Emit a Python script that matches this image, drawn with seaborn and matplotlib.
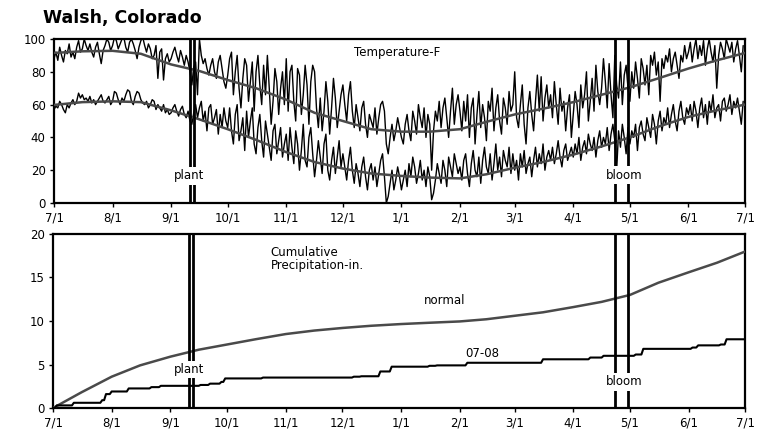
import numpy as np
import pandas as pd
import matplotlib
matplotlib.use("Agg")
import matplotlib.pyplot as plt
import seaborn as sns

# ---------------- data ----------------
month_ticks = [0, 31, 62, 92, 123, 153, 184, 215, 244, 275, 305, 336, 366]
month_labels = ["7/1", "8/1", "9/1", "10/1", "11/1", "12/1", "1/1", "2/1",
                "3/1", "4/1", "5/1", "6/1", "7/1"]

# daily max temperature, 7/1/2007 - 6/30/2008 (F)
tmax_jul = [88,92,87,95,90,86,93,91,97,89,92,88,95,99,92,94,100,96,93,97,92,89,95,98,91,85,93,96,100,98,93]
tmax_aug = [96,101,99,94,97,100,101,95,92,98,100,97,93,88,95,99,101,96,92,97,94,88,90,96,76,92,94,75,88,91,86]
tmax_sep = [88,92,95,90,86,93,89,84,90,86,80,72,83,86,66,100,90,85,88,82,78,84,88,80,76,86,90,82,74,70]
tmax_oct = [78,88,92,66,80,90,70,58,76,88,84,62,74,86,56,80,90,72,60,84,66,90,70,48,62,82,74,54,70,80,60]
tmax_nov = [88,56,80,84,62,50,82,78,54,66,84,72,48,74,84,80,58,46,64,44,56,74,62,42,58,76,64,46,56,66]
tmax_dec = [72,60,50,66,74,56,46,60,52,44,58,62,48,40,54,50,46,58,42,52,60,62,56,36,30,40,48,38,44,52,46]
tmax_jan = [40,36,48,54,44,38,56,50,42,60,52,46,58,40,54,48,20,44,56,50,62,46,58,64,52,40,56,70,48,60,66]
tmax_feb = [56,44,62,50,66,40,58,64,36,54,68,46,60,52,38,62,56,70,44,58,66,50,42,64,58,48,68,56,60]
tmax_mar = [80,52,46,60,72,48,36,58,68,54,44,62,78,56,77,50,64,72,58,66,52,74,60,48,70,56,62,44,58,66,40]
tmax_apr = [54,68,60,46,72,58,66,80,50,62,76,56,84,68,60,70,88,74,58,85,66,52,90,72,64,86,60,78,84,70]
tmax_may = [62,80,70,86,76,64,88,82,72,84,66,90,84,92,78,86,62,88,82,90,86,94,80,88,92,84,76,90,86,96,88]
tmax_jun = [92,98,86,94,100,88,96,90,99,84,94,100,92,86,96,70,90,98,94,88,100,96,92,98,86,94,99,90,80,96]

# daily min temperature
tmin_jul = [57,59,58,62,60,57,55,60,58,61,63,60,62,67,64,66,63,64,62,65,61,63,60,62,64,66,62,61,63,65,60]
tmin_aug = [62,68,67,63,60,64,62,66,69,68,62,60,65,68,67,63,61,60,62,58,60,63,62,57,60,58,56,60,55,57,54]
tmin_sep = [55,58,60,56,53,57,59,54,52,56,50,48,55,60,52,58,62,50,56,44,58,60,48,52,57,42,54,46,58,50]
tmin_oct = [46,58,44,36,54,60,38,44,52,32,56,40,50,58,36,30,46,54,38,28,50,42,34,26,44,48,30,38,46,28,36]
tmin_nov = [42,26,46,34,24,44,36,20,32,48,26,22,40,46,30,16,26,38,28,18,36,42,20,14,26,34,18,28,38,22]
tmin_dec = [30,22,14,26,34,20,12,24,18,10,22,28,16,8,20,24,14,22,10,18,26,30,16,0,4,12,20,8,14,22,16]
tmin_jan = [8,14,20,10,24,16,28,22,12,18,26,14,20,10,22,16,2,6,14,24,18,12,26,20,10,28,22,16,30,24,18]
tmin_feb = [22,14,26,30,18,10,24,32,20,16,28,12,26,34,22,18,30,14,24,36,20,28,16,32,26,22,34,18,30]
tmin_mar = [20,26,14,30,22,32,18,24,28,16,26,34,22,30,24,36,20,28,32,26,34,24,30,38,28,22,32,36,26,30,34]
tmin_apr = [28,36,30,40,26,34,38,30,42,36,32,40,28,38,44,34,40,36,46,32,42,48,38,20,44,34,48,40,30,46]
tmin_may = [36,44,40,48,32,46,50,42,38,52,46,40,54,48,36,50,56,44,52,48,58,46,54,60,50,44,56,62,52,48,58]
tmin_jun = [54,60,50,62,56,46,58,64,52,60,48,62,56,66,52,58,60,50,62,64,56,60,66,54,62,58,64,56,48,62]

# normal temperatures (semi-monthly points, day index from 7/1)
norm_days = [0,15,31,46,62,77,92,107,123,138,153,168,184,199,215,229,244,259,275,290,305,320,336,351,366]
norm_tmax = [91.5,92.5,92.8,91,84.5,80.5,75,70,63,55,50,45,43.5,43.5,45,49.5,54,57.5,61.5,66,70.5,76,82,87,91.5]
norm_tmin = [59.8,61.5,62,61.5,56.5,51,45,38.5,31,25,21,18,16.5,15.5,15,17.5,21.5,25,29.5,34.5,40,46.5,52.5,56.5,60]

# normal cumulative precipitation (in.)
norm_precip = [0,1.8,3.6,4.9,5.9,6.7,7.3,7.9,8.5,8.9,9.2,9.45,9.65,9.8,9.95,10.2,10.6,11.0,11.6,12.2,13.0,14.4,15.6,16.7,18.0]

# 2007-08 rain events (day index from 7/1, inches)
rain_days = [2,11,26,28,31,40,52,57,78,83,89,91,111,159,163,173,179,199,203,219,259,284,291,308,312,338,341,353,356]
rain_amts = [0.3,0.3,0.3,0.7,0.3,0.35,0.15,0.15,0.1,0.15,0.2,0.4,0.1,0.1,0.05,0.55,0.55,0.1,0.05,0.3,0.4,0.2,0.2,0.15,0.65,0.15,0.25,0.1,0.6]

plant_days = [72, 74]
bloom_days = [297, 304]

# ---------------- build frames ----------------
tmax = sum([tmax_jul, tmax_aug, tmax_sep, tmax_oct, tmax_nov, tmax_dec,
            tmax_jan, tmax_feb, tmax_mar, tmax_apr, tmax_may, tmax_jun], [])
tmin = sum([tmin_jul, tmin_aug, tmin_sep, tmin_oct, tmin_nov, tmin_dec,
            tmin_jan, tmin_feb, tmin_mar, tmin_apr, tmin_may, tmin_jun], [])
days = np.arange(len(tmax))
temp_df = pd.DataFrame({"day": days, "tmax": tmax, "tmin": tmin})
norm_df = pd.DataFrame({"day": norm_days, "tmax": norm_tmax, "tmin": norm_tmin,
                        "precip": norm_precip})
daily_rain = np.zeros(367)
for d, a in zip(rain_days, rain_amts):
    daily_rain[d] += a
rain_df = pd.DataFrame({"day": np.arange(367), "cum": np.cumsum(daily_rain)})

# ---------------- plot ----------------
sns.set_style("white")
plt.rcParams["font.family"] = ["DejaVu Sans"]
plt.rcParams["text.color"] = "black"
plt.rcParams["xtick.color"] = "black"
plt.rcParams["ytick.color"] = "black"
plt.rcParams["axes.labelcolor"] = "black"

fig = plt.figure(figsize=(7.63, 4.33), dpi=100)
ax1 = fig.add_axes([0.0708, 0.5312, 0.9057, 0.3787])
ax2 = fig.add_axes([0.0695, 0.0577, 0.9075, 0.4019])

NORM_C = "#4a4a4a"

# temperature panel
sns.lineplot(data=temp_df, x="day", y="tmax", ax=ax1, color="black", linewidth=1.0, zorder=3)
sns.lineplot(data=temp_df, x="day", y="tmin", ax=ax1, color="black", linewidth=1.0, zorder=3)
sns.lineplot(data=norm_df, x="day", y="tmax", ax=ax1, color=NORM_C, linewidth=1.8, zorder=4)
sns.lineplot(data=norm_df, x="day", y="tmin", ax=ax1, color=NORM_C, linewidth=1.8, zorder=4)
ax1.set_ylim(0, 100)
ax1.set_yticks([0, 20, 40, 60, 80, 100])

# precipitation panel
sns.lineplot(data=norm_df, x="day", y="precip", ax=ax2, color=NORM_C, linewidth=1.8, zorder=4)
sns.lineplot(data=rain_df, x="day", y="cum", ax=ax2, color="black", linewidth=1.5, zorder=4)
ax2.set_ylim(0, 20)
ax2.set_yticks([0, 5, 10, 15, 20])

for ax in (ax1, ax2):
    ax.set_xlim(0, 366)
    ax.set_xticks(month_ticks)
    ax.set_xticklabels(month_labels)
    ax.set_xlabel("")
    ax.set_ylabel("")
    ax.tick_params(axis="both", direction="out", length=3, width=1, labelsize=8.5,
                   pad=3, bottom=True, left=True, colors="black")
    for s in ax.spines.values():
        s.set_visible(True)
        s.set_color("black")
        s.set_linewidth(1.6)
    for d in plant_days + bloom_days:
        ax.axvline(d, color="black", linewidth=2.0, zorder=5)

box = dict(facecolor="white", edgecolor="none", pad=1.5)
ax1.text(181.7, 91.5, "Temperature-F", ha="center", va="center", fontsize=8.5, zorder=6)
ax1.text(71.5, 16.5, "plant", ha="center", va="center", fontsize=8.5, bbox=box, zorder=6)
ax1.text(302, 17, "bloom", ha="center", va="center", fontsize=8.5, bbox=box, zorder=6)

ax2.text(115, 17.1, "Cumulative\nPrecipitation-in.", ha="left", va="center",
         fontsize=8.5, linespacing=1.0, zorder=6)
ax2.text(207, 12.3, "normal", ha="center", va="center", fontsize=8.5, zorder=6)
ax2.text(227, 6.3, "07-08", ha="center", va="center", fontsize=8.5, zorder=6)
ax2.text(71.7, 4.4, "plant", ha="center", va="center", fontsize=8.5, bbox=box, zorder=6)
ax2.text(302, 3.0, "bloom", ha="center", va="center", fontsize=8.5, bbox=box, zorder=6)

fig.text(0.056, 1 - 18 / 433, "Walsh, Colorado", ha="left", va="center",
         fontsize=12.5, fontweight="bold", color="black")

fig.savefig("out.png", dpi=100, facecolor="white")
